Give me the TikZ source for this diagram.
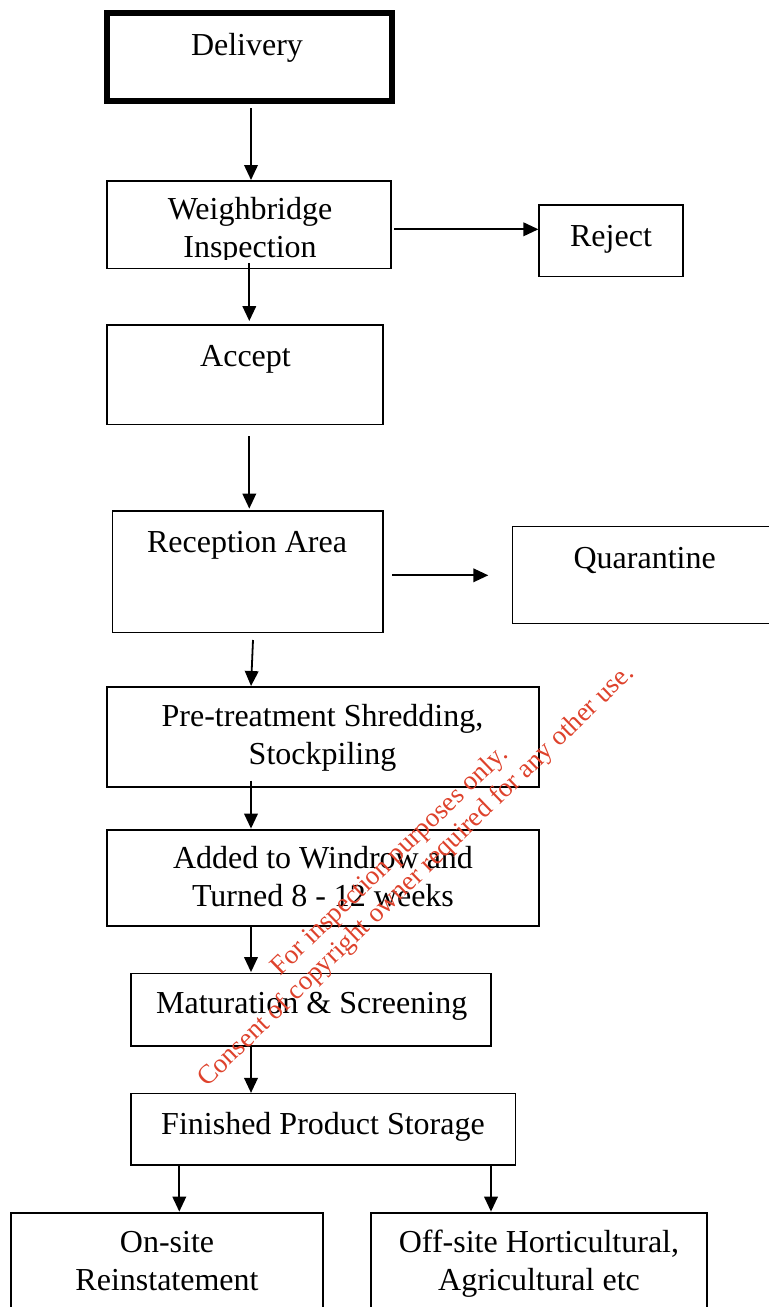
\documentclass[tikz,border=0pt]{standalone}
\usepackage{fontspec}
\setmainfont{Liberation Serif}
\usetikzlibrary{arrows.meta}
\definecolor{wm}{RGB}{222,66,44}
\begin{document}
\begin{tikzpicture}[x=0.5pt,y=-0.5pt,
  box/.style={draw=black, line width=0.9pt, rectangle, inner sep=0pt, outer sep=0pt},
  txt/.style={font=\fontsize{16pt}{19pt}\selectfont, align=center, inner sep=0pt, anchor=base},
  arr/.style={line width=0.9pt, -{Triangle[length=7.5pt,width=6.8pt]}},
  wmtxt/.style={font=\fontsize{13.5pt}{16pt}\selectfont, text=wm, inner sep=0pt, rotate=44, anchor=base west}]
\useasboundingbox (0,0) rectangle (768,1307);

% boxes
\node[box, line width=3pt, minimum width=142.25pt, minimum height=44pt] (del) at (249.25,57) {};
\node[box, minimum width=142pt, minimum height=43.75pt] (wb) at (249,224.75) {};
\node[box, minimum width=72pt, minimum height=35.75pt] (rej) at (611,240.75) {};
\node[box, minimum width=138pt, minimum height=49.75pt] (acc) at (245,374.75) {};
\node[box, minimum width=135.25pt, minimum height=60.75pt] (rec) at (247.75,571.75) {};
\node[box, minimum width=132.5pt, minimum height=48.5pt] (qua) at (645,575) {};
\node[box, minimum width=216pt, minimum height=50pt] (pre) at (323,737) {};
\node[box, minimum width=216pt, minimum height=48pt] (add) at (323,878) {};
\node[box, minimum width=180pt, minimum height=36.25pt] (mat) at (311,1009.75) {};
\node[box, minimum width=192.25pt, minimum height=35.75pt] (fin) at (323.25,1129.25) {};
\node[box, minimum width=156pt, minimum height=58.5pt] (on) at (167,1271.5) {};
\node[box, minimum width=168pt, minimum height=58.5pt] (off) at (539,1271.5) {};

% texts (multi-line texts are placed at the baseline of their last line)
\node[txt] (tdel) at (247,55) {Delivery};
\begin{scope}
  \clip (108,190) rectangle (390,259);
  \node[txt] (twb) at (250,257) {Weighbridge\\Inspection};
\end{scope}
\node[txt] (trej) at (611,246) {Reject};
\node[txt] (tacc) at (245.5,366) {Accept};
\node[txt] (trec) at (247,552) {Reception Area};
\node[txt] (tqua) at (644.7,568) {Quarantine};
\node[txt] (tpre) at (322.5,764) {Pre-treatment Shredding,\\Stockpiling};
\node[txt] (tadd) at (323,906.5) {Added to Windrow and\\Turned 8 - 12 weeks};
\node[txt] (tmat) at (311.7,1013) {Maturation \& Screening};
\node[txt] (tfin) at (323,1134) {Finished Product Storage};
\node[txt] (ton) at (167,1290) {On-site\\Reinstatement};
\node[txt] (toff) at (539,1290) {Off-site Horticultural,\\Agricultural etc};

% connectors
\coordinate (s1) at (251,108);
\draw[arr, shorten >=0.5pt] (s1) -- (s1 |- wb.north);
\coordinate (s2) at (249.3,263);
\draw[arr, shorten >=2pt] (s2) -- (s2 |- acc.north);
\coordinate (s3) at (249.3,436);
\draw[arr, shorten >=1.2pt] (s3) -- (s3 |- rec.north);
\coordinate (s4) at (253,640);
\coordinate (s5) at (251,780.7);
\draw[arr, shorten >=0.5pt] (s4) -- (pre.north -| s5);
\draw[arr, shorten >=0.7pt] (s5) -- (s5 |- add.north);
\draw[arr, shorten >=0.7pt] (add.south -| s5) -- (mat.north -| s5);
\draw[arr, shorten >=0.3pt] (mat.south -| s5) -- (fin.north -| s5);
\coordinate (s8) at (179.3,1200);
\draw[arr, shorten >=0.7pt] (fin.south -| s8) -- (on.north -| s8);
\coordinate (s9) at (491,1200);
\draw[arr, shorten >=0.7pt] (fin.south -| s9) -- (off.north -| s9);
\coordinate (h1) at (394.3,229.3);
\draw[arr, shorten >=0.3pt] (h1) -- (h1 -| rej.west);
\coordinate (h2s) at (392.3,575.3);
\coordinate (h2e) at (488.3,575.3);
\draw[arr] (h2s) -- (h2e);

% watermark
\node[wmtxt] (wm1) at (280,977) {For inspection purposes only.};
\node[wmtxt] (wm2) at (207,1088) {Consent of copyright owner required for any other use.};
\end{tikzpicture}
\end{document}
